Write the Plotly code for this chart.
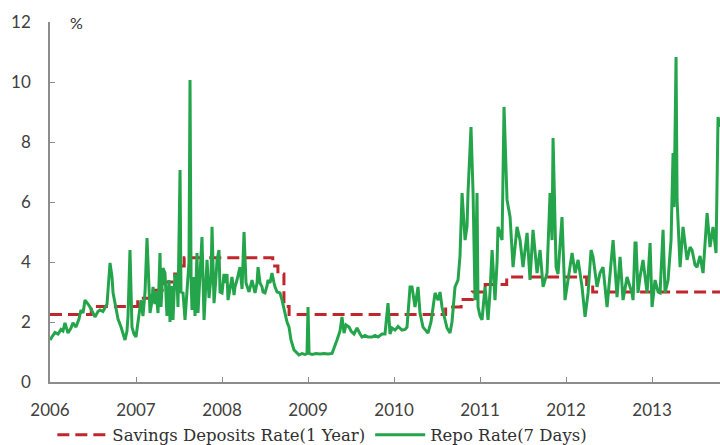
import plotly.graph_objects as go

# ---- data ----
year_ticks = [2006, 2007, 2008, 2009, 2010, 2011, 2012, 2013]
y_ticks = [0, 2, 4, 6, 8, 10, 12]

savings_x = [2006.00, 2006.48, 2007.02, 2007.16, 2007.33, 2007.45, 2007.50, 2007.56,
             2008.59, 2008.65, 2008.72, 2008.78, 2010.60, 2010.78, 2010.91, 2011.06,
             2011.31, 2012.24, 2012.31, 2013.79]
savings_y = [2.25, 2.52, 2.79, 3.06, 3.33, 3.60, 3.87, 4.14,
             3.87, 3.60, 2.52, 2.25, 2.50, 2.75, 3.00, 3.25,
             3.50, 3.25, 3.00, 3.00]

repo_x = [
    2006.000, 2006.035, 2006.058, 2006.093, 2006.128, 2006.151, 2006.174, 2006.209, 2006.244, 2006.267,
    2006.302, 2006.337, 2006.360, 2006.384, 2006.407, 2006.442, 2006.465, 2006.500, 2006.523, 2006.558,
    2006.581, 2006.616, 2006.640, 2006.663, 2006.698, 2006.721, 2006.733, 2006.767, 2006.791, 2006.826,
    2006.849, 2006.872, 2006.895, 2006.907, 2006.930, 2006.953, 2006.977, 2007.000, 2007.023, 2007.058,
    2007.081, 2007.105, 2007.128, 2007.163, 2007.186, 2007.198, 2007.221, 2007.233, 2007.256, 2007.279,
    2007.291, 2007.314, 2007.337, 2007.360, 2007.384, 2007.395, 2007.419, 2007.430, 2007.453, 2007.477,
    2007.488, 2007.512, 2007.523, 2007.547, 2007.570, 2007.593, 2007.616, 2007.628, 2007.640, 2007.651,
    2007.674, 2007.686, 2007.709, 2007.721, 2007.744, 2007.767, 2007.791, 2007.814, 2007.826, 2007.849,
    2007.872, 2007.884, 2007.907, 2007.930, 2007.942, 2007.965, 2007.977, 2008.000, 2008.023, 2008.035,
    2008.058, 2008.070, 2008.093, 2008.116, 2008.140, 2008.151, 2008.174, 2008.209, 2008.233, 2008.256,
    2008.279, 2008.291, 2008.314, 2008.349, 2008.372, 2008.384, 2008.407, 2008.419, 2008.442, 2008.465,
    2008.477, 2008.500, 2008.523, 2008.535, 2008.558, 2008.581, 2008.605, 2008.616, 2008.640, 2008.674,
    2008.698, 2008.733, 2008.756, 2008.779, 2008.802, 2008.837, 2008.872, 2008.895, 2008.930, 2008.965,
    2008.988, 2009.000, 2009.012, 2009.047, 2009.093, 2009.140, 2009.186, 2009.233, 2009.279, 2009.314,
    2009.337, 2009.372, 2009.395, 2009.419, 2009.442, 2009.477, 2009.500, 2009.535, 2009.570, 2009.605,
    2009.628, 2009.663, 2009.698, 2009.744, 2009.779, 2009.814, 2009.860, 2009.895, 2009.930, 2009.953,
    2009.977, 2010.012, 2010.047, 2010.093, 2010.128, 2010.151, 2010.186, 2010.209, 2010.244, 2010.279,
    2010.302, 2010.337, 2010.372, 2010.395, 2010.430, 2010.453, 2010.477, 2010.512, 2010.535, 2010.558,
    2010.593, 2010.616, 2010.651, 2010.674, 2010.709, 2010.744, 2010.767, 2010.791, 2010.826, 2010.849,
    2010.860, 2010.895, 2010.919, 2010.942, 2010.965, 2010.977, 2011.000, 2011.023, 2011.058, 2011.081,
    2011.093, 2011.116, 2011.140, 2011.174, 2011.198, 2011.209, 2011.256, 2011.279, 2011.314, 2011.349,
    2011.384, 2011.430, 2011.465, 2011.500, 2011.547, 2011.581, 2011.616, 2011.663, 2011.698, 2011.733,
    2011.779, 2011.814, 2011.837, 2011.849, 2011.884, 2011.907, 2011.953, 2011.988, 2012.023, 2012.070,
    2012.105, 2012.140, 2012.186, 2012.221, 2012.256, 2012.291, 2012.314, 2012.360, 2012.395, 2012.430,
    2012.477, 2012.512, 2012.547, 2012.593, 2012.628, 2012.663, 2012.709, 2012.744, 2012.767, 2012.779,
    2012.802, 2012.814, 2012.837, 2012.860, 2012.895, 2012.942, 2012.977, 2013.000, 2013.035, 2013.070,
    2013.093, 2013.128, 2013.151, 2013.186, 2013.221, 2013.244, 2013.256, 2013.279, 2013.291, 2013.326,
    2013.360, 2013.407, 2013.442, 2013.465, 2013.500, 2013.523, 2013.558, 2013.593, 2013.640, 2013.674,
    2013.709, 2013.744, 2013.767, 2013.791,
]
repo_y = [
    1.40, 1.55, 1.65, 1.60, 1.75, 1.70, 1.97, 1.63, 1.80, 1.97,
    1.83, 2.10, 2.40, 2.30, 2.73, 2.60, 2.50, 2.30, 2.17, 2.35,
    2.40, 2.35, 2.50, 2.60, 3.97, 3.50, 2.97, 2.40, 2.10, 1.83,
    1.60, 1.40, 1.70, 2.20, 4.40, 1.83, 1.60, 1.50, 2.00, 2.73,
    2.20, 3.00, 4.80, 2.30, 2.70, 3.17, 2.60, 3.00, 2.30, 4.30,
    2.50, 3.80, 3.63, 2.20, 3.40, 2.00, 3.20, 2.07, 3.60, 3.40,
    2.50, 7.07, 3.00, 2.97, 2.07, 3.20, 4.00, 10.07, 3.50, 2.40,
    3.50, 2.20, 4.30, 2.30, 3.80, 4.83, 2.07, 3.20, 4.07, 2.80,
    3.50, 5.17, 2.63, 3.50, 4.07, 4.40, 3.00, 2.97, 3.60, 3.30,
    3.60, 2.73, 3.20, 3.50, 2.90, 3.17, 3.40, 3.83, 3.10, 5.00,
    3.30, 3.17, 3.00, 3.40, 3.10, 2.97, 3.30, 3.83, 3.30, 3.17,
    3.00, 2.97, 3.20, 3.40, 3.30, 3.63, 3.30, 3.17, 3.00, 2.97,
    2.73, 2.30, 2.00, 1.83, 1.40, 1.07, 0.95, 0.90, 0.95, 0.92,
    0.95, 2.50, 0.95, 0.92, 0.95, 0.93, 0.95, 0.93, 0.95, 1.20,
    1.40, 1.70, 2.17, 1.63, 1.90, 1.83, 1.70, 1.60, 1.80, 1.60,
    1.50, 1.55, 1.50, 1.50, 1.55, 1.50, 1.60, 1.60, 2.63, 1.60,
    1.80, 1.73, 1.85, 1.73, 1.75, 1.83, 3.17, 3.17, 2.50, 3.17,
    2.30, 1.83, 1.70, 1.63, 2.00, 2.40, 2.97, 2.73, 3.00, 2.50,
    2.07, 1.80, 1.63, 2.00, 3.17, 3.40, 4.20, 6.30, 4.73, 5.20,
    6.30, 8.50, 6.30, 2.73, 6.30, 2.50, 2.20, 2.07, 3.17, 2.40,
    2.07, 3.00, 4.40, 2.73, 4.00, 5.17, 4.73, 9.17, 6.07, 5.50,
    3.83, 5.17, 4.73, 3.83, 4.97, 3.40, 5.07, 3.63, 4.40, 3.17,
    3.63, 6.30, 4.73, 8.13, 3.83, 3.60, 5.50, 2.73, 3.40, 4.30,
    3.63, 4.07, 3.17, 2.17, 2.97, 4.40, 4.17, 3.17, 3.63, 3.83,
    2.50, 3.60, 4.73, 2.83, 4.17, 2.73, 3.50, 3.17, 2.97, 2.73,
    4.63, 4.63, 2.97, 3.50, 4.07, 2.97, 4.63, 2.50, 3.40, 3.00,
    2.97, 5.07, 2.97, 3.40, 4.73, 7.63, 5.83, 10.83, 6.07, 3.83,
    5.17, 4.07, 4.50, 4.40, 3.90, 3.83, 4.20, 3.63, 5.63, 4.50,
    5.17, 4.30, 8.83, 8.50,
]

savings_name = "Savings Deposits Rate(1 Year)"
repo_name = "Repo Rate(7 Days)"

fig = go.Figure()
fig.add_trace(go.Scatter(
    x=savings_x, y=savings_y, name=savings_name, mode="lines",
    line=dict(color="#C0262B", width=3, dash="12px,6px", shape="hv"),
))
fig.add_trace(go.Scatter(
    x=repo_x, y=repo_y, name=repo_name, mode="lines",
    line=dict(color="#25A54B", width=3),
))

tick_font = dict(family="Lato, Liberation Sans, sans-serif", size=17, color="#404040")

fig.update_layout(
    width=720, height=445,
    margin=dict(l=50, r=0, t=22, b=63, autoexpand=False),
    paper_bgcolor="white", plot_bgcolor="white",
    showlegend=True,
    legend=dict(
        orientation="h", x=0.0035, xanchor="left", y=-0.147, yanchor="middle",
        font=dict(family="DejaVu Serif, Liberation Serif, serif", size=16.5, color="#303030"),
        itemwidth=50, tracegroupgap=0, bgcolor="rgba(0,0,0,0)",
    ),
    xaxis=dict(
        range=[2006, 2013.79], tickmode="array", tickvals=year_ticks,
        ticktext=[str(v) for v in year_ticks], automargin=False,
        showgrid=False, zeroline=False, showline=True, linecolor="#8C8C8C", linewidth=1.5,
        ticks="inside", ticklen=5, tickcolor="#8C8C8C", tickfont=tick_font,
        ticklabelstandoff=12,
    ),
    yaxis=dict(
        range=[0, 12], tickmode="array", tickvals=y_ticks, automargin=False,
        showgrid=False, zeroline=False, showline=True, linecolor="#8C8C8C", linewidth=1.5,
        ticks="inside", ticklen=5, tickcolor="#8C8C8C", tickfont=tick_font,
        ticklabelstandoff=14,
    ),
    annotations=[dict(
        text="%", xref="paper", yref="paper", x=0.039, y=1.0,
        xanchor="center", yanchor="middle", showarrow=False,
        font=dict(family="Lato, Liberation Sans, sans-serif", size=16, color="#303030"),
    )],
)

fig.write_html(
    "out.html",
    config={"displayModeBar": False},
    post_script="document.body.style.margin='0';document.body.style.overflow='hidden';",
)
